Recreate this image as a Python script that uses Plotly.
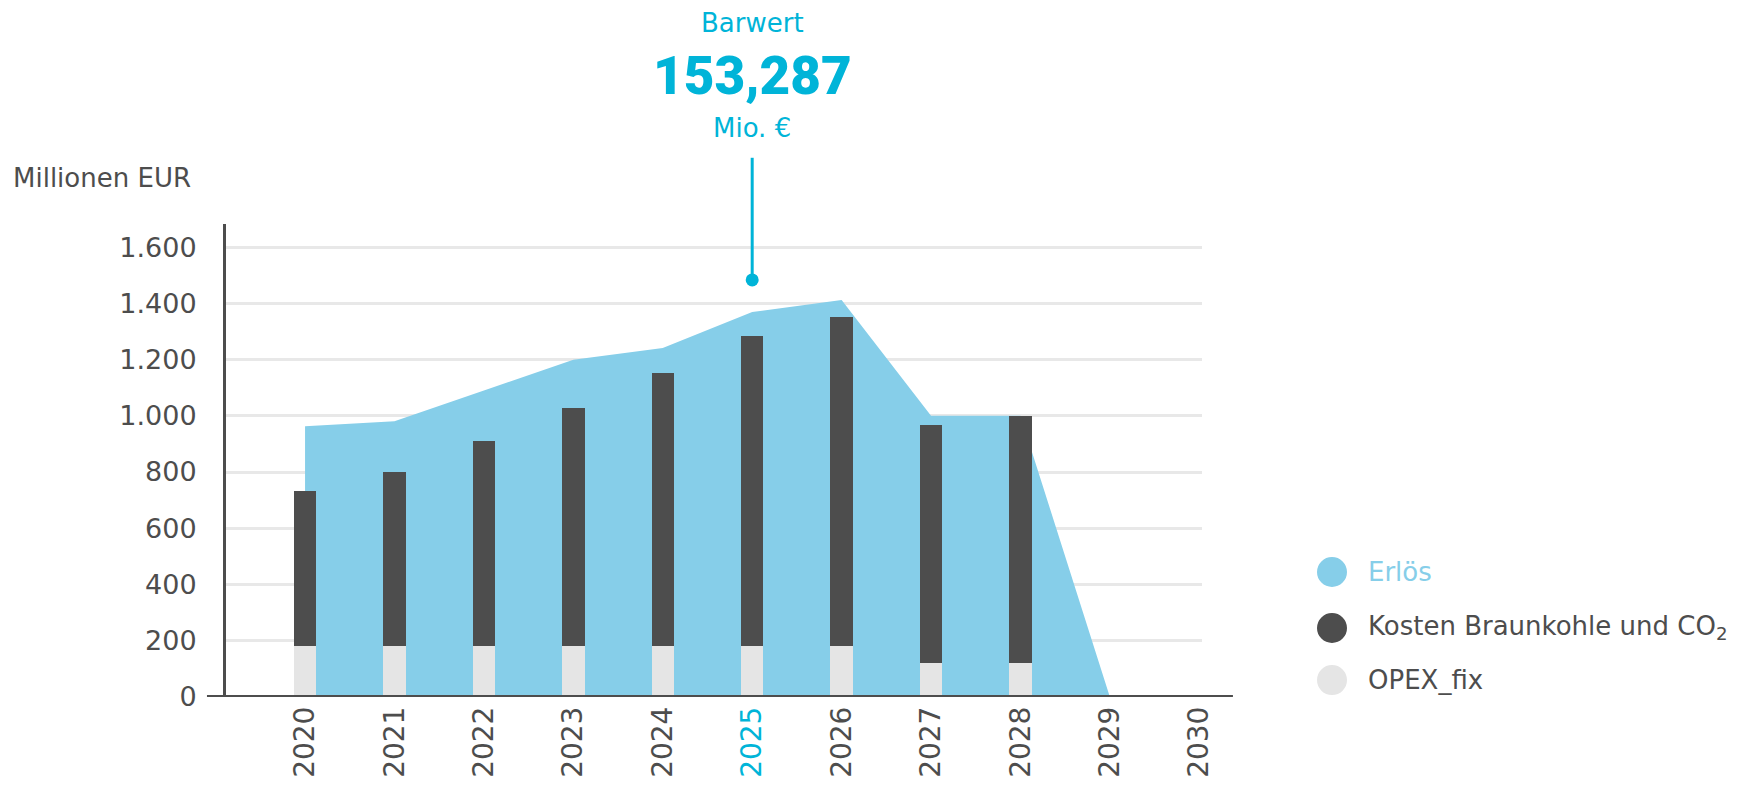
import plotly.graph_objects as go

# data (Millionen EUR)
years = [2020, 2021, 2022, 2023, 2024, 2025, 2026, 2027, 2028]
opex_fix = [180, 180, 180, 180, 180, 180, 180, 120, 120]
kosten = [553, 620, 730, 848, 972, 1104, 1171, 848, 878]
erloes_years = [2020, 2021, 2022, 2023, 2024, 2025, 2026, 2027, 2028, 2029]
erloes = [963, 981, 1090, 1199, 1241, 1369, 1412, 1000, 1000, 0]
tick_years = list(range(2020, 2031))
highlight_year = 2025
barwert_value = 1483
barwert_text = "153,287"
legend_labels = ["Erlös", "Kosten Braunkohle und CO<sub>2</sub>", "OPEX_fix"]

CYAN = "#00b4d8"
AREA = "#86cee9"
DARK = "#4d4d4d"
LIGHT = "#e5e5e5"
FONT = "DejaVu Sans, Arial, sans-serif"

X_RANGE = [2019.116, 2030.03]
Y_RANGE = [0, 1682]

fig = go.Figure()

# area on the main axes, bars on an overlaid pair so they sit on top
fig.add_trace(go.Scatter(
    x=erloes_years, y=erloes, mode="lines", fill="tozeroy",
    line=dict(width=0), fillcolor=AREA, name="Erlös", showlegend=False,
))
fig.add_trace(go.Bar(
    x=years, y=opex_fix, width=0.25, marker=dict(color=LIGHT, line=dict(width=0)),
    name="OPEX_fix", showlegend=False, xaxis="x2", yaxis="y2",
))
fig.add_trace(go.Bar(
    x=years, y=kosten, width=0.25, marker=dict(color=DARK, line=dict(width=0)),
    name="Kosten", showlegend=False, xaxis="x2", yaxis="y2",
))

# Barwert marker dot
fig.add_trace(go.Scatter(
    x=[highlight_year], y=[barwert_value], mode="markers",
    marker=dict(color=CYAN, size=13), cliponaxis=False, showlegend=False,
    xaxis="x2", yaxis="y2",
))

ticktext = [
    f"<span style='color:{CYAN}'>{y}</span>" if y == highlight_year else str(y)
    for y in tick_years
]

# page body has an 8px margin, so the figure is 8px smaller than the window
fig.update_layout(
    width=1740, height=783,
    margin=dict(l=218, r=546, t=216, b=94),
    paper_bgcolor="white", plot_bgcolor="white",
    barmode="stack",
    separators=",.",
    font=dict(family=FONT, color=DARK, size=26),
    xaxis=dict(
        range=X_RANGE, tickvals=tick_years, ticktext=ticktext,
        tickangle=-90, showgrid=False, zeroline=False, showline=False,
        ticks="", ticklabelstandoff=3, tickfont=dict(size=28, color=DARK),
        automargin=False,
    ),
    yaxis=dict(
        range=Y_RANGE, tickvals=list(range(0, 1601, 200)), tickformat=",d",
        showgrid=True, gridcolor="#e8e8e8", gridwidth=3, zeroline=False,
        showline=True, linecolor=DARK, linewidth=3, ticks="",
        ticklabelstandoff=21, tickfont=dict(size=27, color=DARK),
        automargin=False,
    ),
    xaxis2=dict(range=X_RANGE, overlaying="x", visible=False),
    yaxis2=dict(range=Y_RANGE, overlaying="y", visible=False),
)

# baseline extending past the plot area
fig.add_shape(type="line", xref="paper", yref="y", x0=-0.0195, x1=1.0317,
              y0=0, y1=0, line=dict(color=DARK, width=4), layer="above")

# vertical pointer line above 2025
fig.add_shape(type="line", xref="x", yref="paper", x0=highlight_year, x1=highlight_year,
              y0=0.883, y1=1.14, line=dict(color=CYAN, width=3))

fig.add_annotation(x=highlight_year, xref="x", y=1.4245, yref="paper", yanchor="middle",
                   text="Barwert", showarrow=False, font=dict(size=26, color=CYAN))
fig.add_annotation(x=highlight_year, xref="x", y=1.313, yref="paper", yanchor="middle",
                   text=barwert_text, showarrow=False,
                   font=dict(family="Roboto, Arial, sans-serif", size=53, color=CYAN,
                             weight=900))
fig.add_annotation(x=highlight_year, xref="x", y=1.203, yref="paper", yanchor="middle",
                   text="Mio. €", showarrow=False, font=dict(size=26, color=CYAN))

fig.add_annotation(x=-0.2203, xref="paper", y=1.097, yref="paper", text="Millionen EUR",
                   xanchor="left", yanchor="middle", showarrow=False,
                   font=dict(size=26, color=DARK))

# manual legend
legend_colors = [AREA, DARK, LIGHT]
legend_text_colors = [AREA, DARK, DARK]
legend_y = [0.2643, 0.1459, 0.0359]
for label, col, tcol, ly in zip(legend_labels, legend_colors, legend_text_colors, legend_y):
    fig.add_shape(type="circle", xref="paper", yref="paper",
                  xsizemode="pixel", ysizemode="pixel", xanchor=1.1332, yanchor=ly,
                  x0=-15, x1=15, y0=-15, y1=15, fillcolor=col, line=dict(width=0))
    fig.add_annotation(x=1.168, xref="paper", y=ly, yref="paper", text=label,
                       xanchor="left", yanchor="middle", showarrow=False,
                       font=dict(size=26, color=tcol))

fig.write_html("out.html")
